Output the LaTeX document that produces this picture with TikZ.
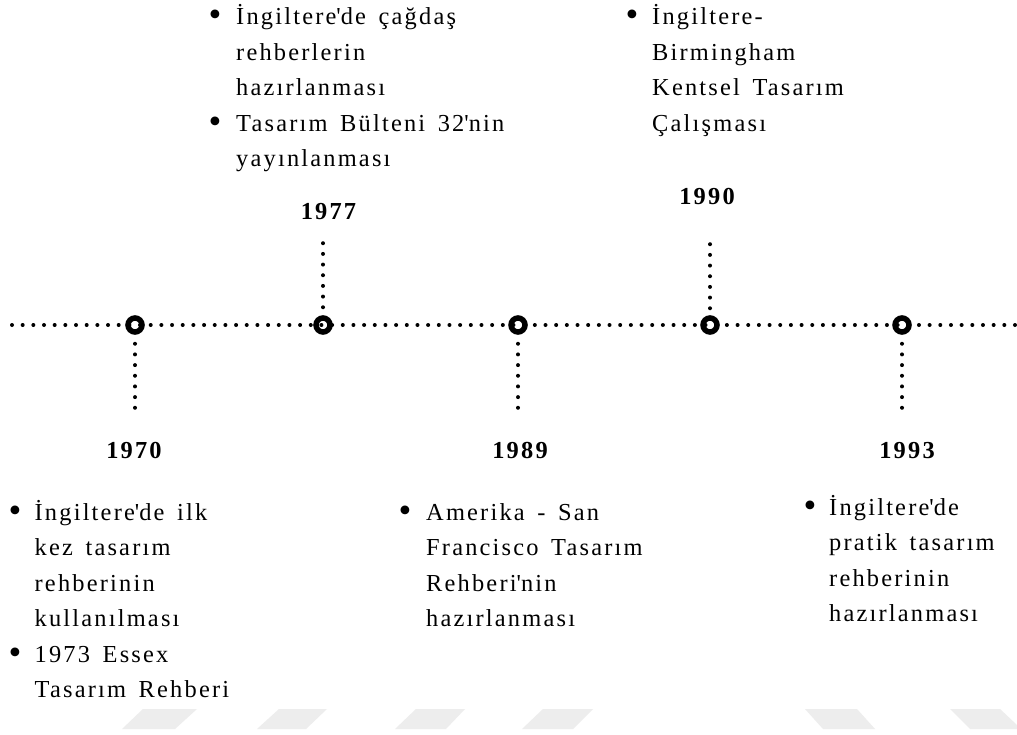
\documentclass[tikz,border=0pt]{standalone}
\usepackage{graphicx}
\usepackage{fontspec}
\setmainfont{Liberation Serif}
\newfontfamily\tlfont[LetterSpace=9]{Liberation Serif}
\newcommand\bigbul{\raisebox{-2pt}{\scalebox{1.5}{\textbullet}}}
\newcommand\blockfont{\tlfont\fontsize{24.4}{35.5}\selectfont\spaceskip 12.6pt plus 2pt minus 1pt\relax}
\begin{document}
\begin{tikzpicture}[x=1pt,y=-1pt,
  dotline/.style={line width=4pt, line cap=round, dash pattern=on 0pt off 10.67pt},
  ring/.style={circle, draw, line width=5.5pt, minimum size=14pt, inner sep=0pt},
  yearlbl/.style={font=\tlfont\fontsize{24.4}{28}\selectfont\bfseries, anchor=base, inner sep=0pt},
  blocktxt/.style={font=\blockfont, anchor=base west, inner sep=0pt},
  wmshape/.style={fill=black!7, draw=none}
]
\useasboundingbox (0,0) rectangle (1017,735);
\fill[white] (0,0) rectangle (1017,735);

% watermark shapes
\fill[wmshape] (122,729) -- (175,729) -- (197,709) -- (143,709) -- cycle;
\fill[wmshape] (257,729) -- (306,729) -- (327,709) -- (279,709) -- cycle;
\fill[wmshape] (395,729) -- (446,729) -- (465,709) -- (416,709) -- cycle;
\fill[wmshape] (522,729) -- (573,729) -- (593,709) -- (543,709) -- cycle;
\fill[wmshape] (805,709) -- (857,709) -- (875,729) -- (823,729) -- cycle;
\fill[wmshape] (950,709) -- (1000,709) -- (1017,725) -- (1017,729) -- (970,729) -- cycle;

% timeline
\coordinate (lstart) at (12,325);
\coordinate (lend) at (1017,325);
\draw[dotline] (lstart) -- (lend);

\node[ring] (c1) at (135,325) {};
\node[ring] (c2) at (323,325) {};
\node[ring] (c3) at (518,325) {};
\node[ring] (c4) at (710,325) {};
\node[ring] (c5) at (902,325) {};

\coordinate (e1) at (135,409);
\coordinate (e2) at (323,242);
\coordinate (e3) at (518,409);
\coordinate (e4) at (710,244);
\coordinate (e5) at (902,409);
\draw[dotline, shorten <=9pt] (c1.south) -- (e1);
\draw[dotline, shorten <=8pt] (c2.north) -- (e2);
\draw[dotline, shorten <=9pt] (c3.south) -- (e3);
\draw[dotline, shorten <=7pt] (c4.north) -- (e4);
\draw[dotline, shorten <=9pt] (c5.south) -- (e5);

% years
\node[yearlbl] (y1) at (134,458) {1970};
\node[yearlbl] (y2) at (328.5,220) {1977};
\node[yearlbl] (y3) at (520,458) {1989};
\node[yearlbl] (y4) at (707,205) {1990};
\node[yearlbl] (y5) at (907,458) {1993};

% text blocks
\node[blocktxt] (t1) at (8.5,520) {\begin{tabular}[t]{@{}p{26pt}@{}l@{}}
\bigbul & İngiltere\textquotesingle de ilk\\
 & kez tasarım\\
 & rehberinin\\
 & kullanılması\\
\bigbul & 1973 Essex\\
 & Tasarım Rehberi
\end{tabular}};

\node[blocktxt] (t2) at (208.5,25) {\begin{tabular}[t]{@{}p{27.5pt}@{}l@{}}
\bigbul & İngiltere\textquotesingle de çağdaş\\
 & rehberlerin\\
 & hazırlanması\\
\bigbul & Tasarım Bülteni 32\textquotesingle nin\\
 & yayınlanması
\end{tabular}};

\node[blocktxt] (t3) at (398.5,520) {\begin{tabular}[t]{@{}p{27.5pt}@{}l@{}}
\bigbul & Amerika - San\\
 & Francisco Tasarım\\
 & Rehberi\textquotesingle nin\\
 & hazırlanması
\end{tabular}};

\node[blocktxt] (t4) at (625.5,25) {\begin{tabular}[t]{@{}p{26.5pt}@{}l@{}}
\bigbul & İngiltere-\\
 & Birmingham\\
 & Kentsel Tasarım\\
 & Çalışması
\end{tabular}};

\node[blocktxt] (t5) at (803.5,515) {\begin{tabular}[t]{@{}p{25.5pt}@{}l@{}}
\bigbul & İngiltere\textquotesingle de\\
 & pratik tasarım\\
 & rehberinin\\
 & hazırlanması
\end{tabular}};
\end{tikzpicture}
\end{document}
